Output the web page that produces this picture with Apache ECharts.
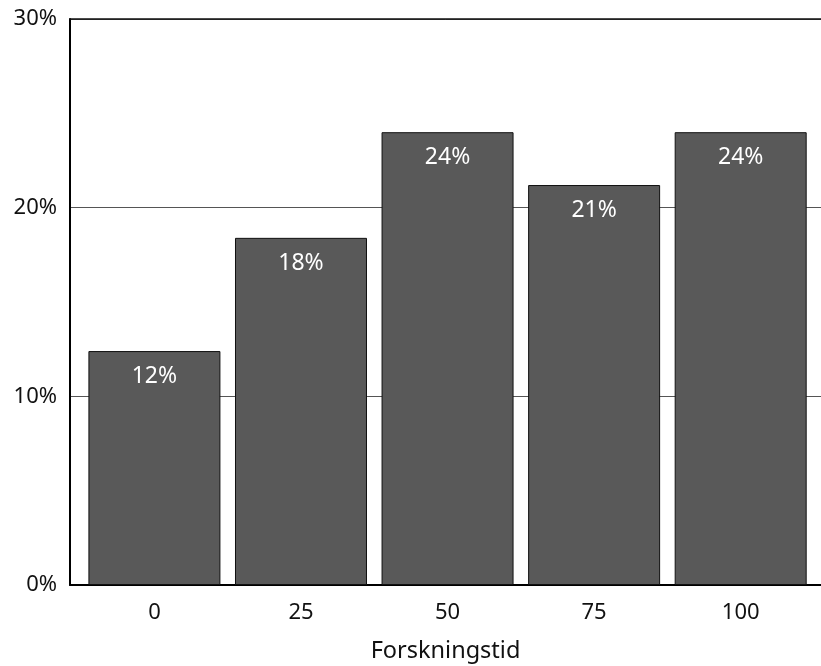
<!DOCTYPE html>
<html>
<head>
<meta charset="utf-8">
<script src="https://cdn.jsdelivr.net/npm/echarts@6/dist/echarts.min.js"></script>
<style>
html,body{margin:0;padding:0;background:#fff;}
#chart{width:821px;height:666px;}
</style>
</head>
<body>
<div id="chart"></div>
<script>
const categories = [0, 25, 50, 75, 100];
const shares = [12.4, 18.4, 24.0, 21.2, 24.0];
const yTicks = [0, 10, 20, 30];
const xTitle = 'Forskningstid';

const FONT = 'Noto Sans';
const FS = 22;
const chart = echarts.init(document.getElementById('chart'), null, {renderer: 'canvas'});
chart.setOption({
  animation: false,
  backgroundColor: '#fff',
  grid: {left: 70, right: 0, top: 19, bottom: 81, containLabel: false, outerBoundsMode: 'none'},
  xAxis: [{
    type: 'value',
    min: -14.4,
    max: 113.7,
    name: xTitle,
    nameLocation: 'middle',
    nameGap: 54,
    nameTextStyle: {fontFamily: FONT, fontSize: 23.5, color: '#111'},
    axisLine: {show: true, onZero: false, lineStyle: {color: '#000', width: 2}},
    axisTick: {show: false},
    splitLine: {show: false},
    axisLabel: {customValues: categories, fontFamily: FONT, fontSize: FS, color: '#111', margin: 17}
  }, {
    type: 'value',
    position: 'top',
    min: -14.4,
    max: 113.7,
    axisLine: {show: true, onZero: false, lineStyle: {color: '#111', width: 1.5}},
    axisTick: {show: false},
    axisLabel: {show: false},
    splitLine: {show: false}
  }],
  yAxis: {
    type: 'value',
    position: 'left',
    min: yTicks[0],
    max: yTicks[yTicks.length - 1],
    interval: 10,
    axisLine: {show: true, onZero: false, lineStyle: {color: '#000', width: 2}},
    axisTick: {show: false},
    splitLine: {show: true, lineStyle: {color: '#555', width: 1}},
    axisLabel: {formatter: '{value}%', fontFamily: FONT, fontSize: FS, color: '#111', margin: 13}
  },
  series: [{
    type: 'bar',
    xAxisIndex: 0,
    data: categories.map((c, i) => [c, shares[i]]),
    barWidth: 132,
    itemStyle: {color: '#595959', borderColor: '#111', borderWidth: 1},
    label: {
      show: true,
      position: 'insideTop',
      distance: 14,
      color: '#fff',
      fontFamily: FONT,
      fontSize: 23,
      formatter: p => Math.round(p.value[1]) + '%'
    }
  }]
});
</script>
</body>
</html>
